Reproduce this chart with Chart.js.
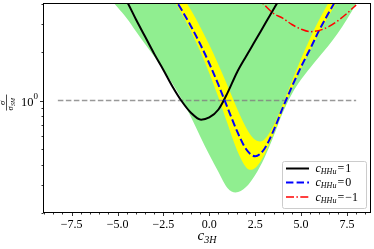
<!DOCTYPE html>
<html><head><meta charset="utf-8">
<script src="https://cdn.jsdelivr.net/npm/chart.js@4.4.0/dist/chart.umd.min.js"></script>
<style>html,body{margin:0;padding:0;background:#fff;}#wrap{width:374px;height:249px;position:relative;}</style>
</head><body><div id="wrap"><canvas id="c" width="374" height="249"></canvas></div>
<script>
// ---- axis ticks ----
const xMajorTicks = [-7.5, -5.0, -2.5, 0.0, 2.5, 5.0, 7.5];
const xTickLabels = ['\u22127.5', '\u22125.0', '\u22122.5', '0.0', '2.5', '5.0', '7.5'];
const xMinorTicks = [-9,-8.5,-8,-7,-6.5,-6,-5.5,-4.5,-4,-3.5,-3,-2,-1.5,-1,-0.5,0.5,1,1.5,2,3,3.5,4,4.5,5.5,6,6.5,7,8,8.5];
const yMajorTicks = [1];
const yMinorTicks = [0.2,0.3,0.4,0.5,0.6,0.7,0.8,0.9,2,3,4];

// ---- green band (lower envelope; filled up to the top) ----
const greenX = [-6,-5.5,-5,-4.5,-4,-3.5,-3,-2.5,-2,-1.5,-1,-0.5,0,0.5,1,1.43,2,2.5,3,3.5,4,4.5,5,5.5,6,6.5,7,7.5,8];
const greenLow = [5.2,4.45,3.8,3.25,2.7,2.25,1.88,1.55,1.27,1.02,0.79,0.60,0.46,0.36,0.285,0.268,0.29,0.345,0.44,0.60,0.84,1.1,1.35,1.6,1.88,2.2,2.62,3.2,4.0];

// ---- yellow band (between lower and upper curves) ----
const yellowX = [-2.2,-1.5,-1,-0.5,0,0.5,1,1.5,2,2.25,2.5,2.75,3,3.5,4,4.5,5,5.5,6,6.5,7,7.5];
const yellowLow = [4.73,3.46,2.70,2.03,1.48,1.045,0.715,0.495,0.385,0.371,0.381,0.411,0.461,0.621,0.861,1.18,1.58,2.06,2.62,3.35,4.15,5.0];
const yellowHigh = [5.95,4.53,3.65,2.88,2.22,1.67,1.23,0.90,0.68,0.611,0.57,0.556,0.572,0.70,0.95,1.32,1.82,2.45,3.2,4.07,5.07,6.2];

// ---- curves ----
const blackX = [-5,-4.5,-4,-3.5,-3,-2.5,-2,-1.5,-1,-0.45,0,0.5,1,1.5,2,2.5,3,3.5,4];
const blackY = [5.1,4.15,3.2,2.5,1.95,1.55,1.22,0.99,0.84,0.76,0.785,0.88,1.12,1.49,1.88,2.35,2.95,3.7,4.6];
const blueX = [-2,-1.5,-1,-0.5,0,0.5,1,1.5,2,2.5,3,3.5,4,4.5,5,5.5,6,6.5,7];
const blueY = [4.5,3.65,2.9,2.25,1.70,1.25,0.90,0.65,0.50,0.45,0.50,0.65,0.90,1.22,1.62,2.1,2.75,3.5,4.4];
const redX = [2.5,3.0,3.5,4.0,4.5,5.0,5.5,6.0,6.5,7.0,7.5,8.0];
const redY = [4.48,3.93,3.48,3.25,2.97,2.78,2.68,2.73,2.88,3.13,3.48,3.93];
const refX = [-8.25, 8.0];
const refY = [1, 1];

const legendLabels = ['1', '0', '\u22121'];

function pts(xs, ys){ return xs.map((x,i)=>({x:x, y:ys[i]})); }

const SERIF = '"Liberation Serif","DejaVu Serif",serif';

function drawMath(ctx, x, y, parts){
  let cx = x;
  for (const p of parts){
    ctx.font = (p.it ? 'italic ' : '') + p.size + 'px ' + SERIF;
    cx += (p.pre||0);
    ctx.fillText(p.t, cx, y + (p.dy||0));
    cx += ctx.measureText(p.t).width + (p.gap||0);
  }
  return cx;
}

const decor = {
  id: 'decor',
  afterDraw(chart){
    const ctx = chart.ctx, a = chart.chartArea;
    const xs = chart.scales.x, ys = chart.scales.y;
    ctx.save();
    ctx.fillStyle = '#000'; ctx.strokeStyle = '#000';
    // frame
    ctx.lineWidth = 1;
    ctx.strokeRect(Math.round(a.left)+0.5, Math.round(a.top)+0.5, Math.round(a.right-a.left)-1, Math.round(a.bottom-a.top)-1);
    const bot = Math.round(a.bottom)-0.5, lft = Math.round(a.left)+0.5;
    // ticks
    ctx.lineWidth = 0.8;
    ctx.beginPath();
    xMajorTicks.forEach(v=>{ const px = Math.round(xs.getPixelForValue(v))+0.5; ctx.moveTo(px, bot); ctx.lineTo(px, bot+3.5); });
    xMinorTicks.forEach(v=>{ const px = Math.round(xs.getPixelForValue(v))+0.5; if(px<a.left||px>a.right) return; ctx.moveTo(px, bot); ctx.lineTo(px, bot+2); });
    yMajorTicks.forEach(v=>{ const py = Math.round(ys.getPixelForValue(v))+0.5; ctx.moveTo(lft, py); ctx.lineTo(lft-3.5, py); });
    yMinorTicks.forEach(v=>{ const py = Math.round(ys.getPixelForValue(v))+0.5; ctx.moveTo(lft, py); ctx.lineTo(lft-2, py); });
    ctx.stroke();
    // x tick labels
    ctx.textAlign = 'center'; ctx.textBaseline = 'alphabetic';
    ctx.font = '12px ' + SERIF;
    xMajorTicks.forEach((v,i)=>{ ctx.fillText(xTickLabels[i], xs.getPixelForValue(v), 228); });
    // y tick label 10^0
    ctx.textAlign = 'left';
    const y1 = ys.getPixelForValue(1);
    ctx.font = '12.5px ' + SERIF;
    ctx.fillText('10', 21, y1 + 5.5);
    ctx.font = '9px ' + SERIF;
    ctx.fillText('0', 33.5, y1 - 1.5);
    // x axis title c_3H
    drawMath(ctx, 197.5, 240, [{t:'c', it:true, size:15}, {t:'3H', it:true, size:10, dy:3}]);
    // y axis title sigma / sigma_SM (rotated)
    ctx.save();
    ctx.translate(6.5, y1 + 2);
    ctx.rotate(-Math.PI/2);
    ctx.textAlign = 'left';
    ctx.font = 'italic 8.5px ' + SERIF;
    ctx.fillText('\u03c3', -2.5, -1.8);
    ctx.fillRect(-8, -0.3, 16, 0.7);
    ctx.fillText('\u03c3', -8, 6.5);
    ctx.font = 'italic 6px ' + SERIF;
    ctx.fillText('SM', -3.5, 8);
    ctx.restore();
    // legend
    const lx = 282.5, ly = 161.5, lw = 84, lh = 47;
    ctx.beginPath();
    if (ctx.roundRect) ctx.roundRect(lx, ly, lw, lh, 2); else ctx.rect(lx, ly, lw, lh);
    ctx.fillStyle = 'rgba(255,255,255,0.85)'; ctx.fill();
    ctx.strokeStyle = '#cccccc'; ctx.lineWidth = 1; ctx.stroke();
    const rows = [
      {y:168.5, color:'#000000', dash:[], lw:2},
      {y:182.5, color:'#0000ff', dash:[7.4,3.2], lw:2},
      {y:197, color:'#ff0000', dash:[8,2.4,1.5,2.4], lw:1.5}
    ];
    rows.forEach((r,i)=>{
      ctx.beginPath(); ctx.setLineDash(r.dash); ctx.strokeStyle = r.color; ctx.lineWidth = r.lw;
      ctx.moveTo(286, r.y); ctx.lineTo(309, r.y); ctx.stroke();
      ctx.setLineDash([]);
      ctx.fillStyle = '#000'; ctx.textAlign = 'left';
      drawMath(ctx, 315.5, r.y + 3.8, [
        {t:'c', it:true, size:12}, {t:'HHu', it:true, size:8, dy:1.8},
        {t:'=', size:12, pre:1, gap:1}, {t:legendLabels[i], size:12}
      ]);
    });
    ctx.restore();
  }
};

const mono = {cubicInterpolationMode:'monotone', pointRadius:0, pointHoverRadius:0, clip:0};

new Chart(document.getElementById('c'), {
  type: 'line',
  data: { datasets: [
    Object.assign({label:'green', data: pts(greenX, greenLow), borderWidth:0, borderColor:'rgba(0,0,0,0)', backgroundColor:'#90ee90', fill:'end', order:7}, mono),
    Object.assign({label:'yellowLow', data: pts(yellowX, yellowLow), borderWidth:0, borderColor:'rgba(0,0,0,0)', backgroundColor:'#ffff00', fill:'+1', order:6}, mono),
    Object.assign({label:'yellowHigh', data: pts(yellowX, yellowHigh), borderWidth:0, borderColor:'rgba(0,0,0,0)', fill:false, order:5}, mono),
    {label:'ref', data: pts(refX, refY), borderColor:'rgba(128,128,128,0.8)', borderWidth:1.5, borderDash:[5.5,2.5], fill:false, pointRadius:0, order:4, clip:0},
    Object.assign({label:'c_HHu=1', data: pts(blackX, blackY), borderColor:'#000000', borderWidth:2, fill:false, order:3}, mono),
    Object.assign({label:'c_HHu=0', data: pts(blueX, blueY), borderColor:'#0000ff', borderWidth:2, borderDash:[7.4,3.2], fill:false, order:2}, mono),
    Object.assign({label:'c_HHu=-1', data: pts(redX, redY), borderColor:'#ff0000', borderWidth:1.5, borderDash:[8,2.4,1.5,2.4], fill:false, order:1}, mono)
  ]},
  options: {
    responsive:false, animation:false, devicePixelRatio:1,
    layout:{padding:{left:43, right:3, top:3, bottom:36}},
    plugins:{legend:{display:false}, tooltip:{enabled:false}},
    events:[],
    scales:{
      x:{type:'linear', min:-9.06, max:8.81, display:false},
      y:{type:'logarithmic', min:0.2, max:4.04, display:false}
    }
  },
  plugins:[decor]
});
</script>
</body></html>
